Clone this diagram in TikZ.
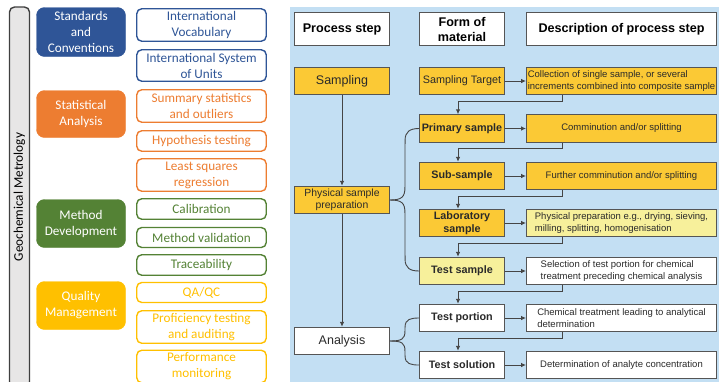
\documentclass[tikz,border=0pt]{standalone}
\usepackage{fontspec}
\setmainfont{Carlito}
\newfontfamily\arialf{Liberation Sans}
\usetikzlibrary{arrows.meta,calc}
\definecolor{cblue}{HTML}{2F5597}
\definecolor{corange}{HTML}{ED7D31}
\definecolor{cgreen}{HTML}{548235}
\definecolor{cgold}{HTML}{FFC000}
\definecolor{bgblue}{HTML}{C3DFF3}
\definecolor{boxgold}{HTML}{FBC935}
\definecolor{boxlight}{HTML}{F7F09B}
\definecolor{edgegray}{HTML}{555555}
\definecolor{txtgray}{HTML}{2A2A2A}
\definecolor{linegray}{HTML}{454545}
\definecolor{barfill}{HTML}{E7E6E6}
\definecolor{baredge}{HTML}{3F3F3F}
\begin{document}
\begin{tikzpicture}[x=1pt,y=-1pt,
  leftfont/.style={font=\fontsize{13.2}{16}\selectfont},
  catbox/.style={fill=#1, draw=#1, rounded corners=8pt, minimum width=89pt,
    text=white, align=center, leftfont, inner sep=0pt},
  itembox/.style={draw=#1, line width=1.4pt, fill=white, rounded corners=5pt,
    minimum width=129.5pt, text=#1, align=center, leftfont, inner sep=0pt},
  pbox/.style={draw=edgegray, line width=0.9pt, fill=#1, align=center,
    inner sep=0pt, text=txtgray},
  hdrbox/.style={pbox=white, text=black, minimum height=33pt,
    font=\arialf\bfseries\fontsize{12.6}{15}\selectfont},
  procbox/.style={pbox=#1, minimum width=95pt, minimum height=27.5pt,
    font=\arialf\fontsize{12.5}{15}\selectfont},
  formbox/.style={pbox=#1, minimum width=85pt, minimum height=27.5pt,
    font=\arialf\fontsize{10.8}{12.5}\selectfont},
  descbox/.style={pbox=#1, minimum width=190pt, minimum height=27.5pt,
    font=\arialf\fontsize{9.5}{11.8}\selectfont},
  conn/.style={draw=linegray, line width=0.9pt},
  arr/.style={conn, -{Latex[length=5pt,width=4.5pt]}}
]
\useasboundingbox (0,0) rectangle (719,381);
\clip (0,0) rectangle (719,381);

% ---------- left panel ----------
\node[draw=baredge, line width=1.4pt, fill=barfill, rounded corners=5pt,
  rotate=90, minimum width=380pt, minimum height=20pt, inner sep=0pt,
  leftfont, text=black] (bar) at (19.5,197) {Geochemical Metrology};

\node[catbox=cblue,   minimum height=49pt] (sc) at (81,32)    {Standards\\and\\Conventions};
\node[catbox=corange, minimum height=47pt] (sa) at (81,114)   {Statistical\\Analysis};
\node[catbox=cgreen,  minimum height=48pt] (md) at (81,223.5) {Method\\Development};
\node[catbox=cgold,   minimum height=48pt] (qm) at (81,305.5) {Quality\\Management};

\node[itembox=cblue,   minimum height=32.5pt] (iv)  at (201.5,25)    {International\\Vocabulary};
\node[itembox=cblue,   minimum height=31.5pt] (isu) at (201.5,65.5)  {International System\\of Units};
\node[itembox=corange, minimum height=32.5pt] (sso) at (201.5,106)   {Summary statistics\\and outliers};
\node[itembox=corange, minimum height=20.5pt] (ht)  at (201.5,141)   {Hypothesis testing};
\node[itembox=corange, minimum height=32.5pt] (lsr) at (201.5,175)   {Least squares\\regression};
\node[itembox=cgreen,  minimum height=20.5pt] (cal) at (201.5,209)   {Calibration};
\node[itembox=cgreen,  minimum height=20pt]   (mv)  at (201.5,237.5) {Method validation};
\node[itembox=cgreen,  minimum height=20.5pt] (tr)  at (201.5,265)   {Traceability};
\node[itembox=cgold,   minimum height=20pt]   (qa)  at (201.5,292.5) {QA/QC};
\node[itembox=cgold,   minimum height=32.5pt] (pta) at (201.5,327)   {Proficiency testing\\and auditing};
\node[itembox=cgold,   minimum height=32.5pt] (pm)  at (201.5,366.5) {Performance\\monitoring};

% ---------- right panel ----------
\fill[bgblue] (290,7) rectangle (719,390);

\node[hdrbox, minimum width=95pt]  (h1) at (342,29)   {Process step};
\node[hdrbox, minimum width=85pt]  (h2) at (462,29)   {Form of\\material};
\node[hdrbox, minimum width=190pt] (h3) at (621.5,29) {Description of process step};

\node[procbox=boxgold] (samp) at (342,81) {Sampling};
\node[procbox=boxgold, font=\arialf\fontsize{10.4}{12}\selectfont] (phys) at (342,200) {Physical sample\\preparation};
\node[procbox=white] (anal) at (342,341) {Analysis};

\node[formbox=boxgold] (st)   at (462,81)    {Sampling Target};
\node[formbox=boxgold, font=\arialf\bfseries\fontsize{10.8}{12.5}\selectfont] (prim) at (462,128.5) {Primary sample};
\node[formbox=boxgold, font=\arialf\bfseries\fontsize{10.8}{12.5}\selectfont] (sub)  at (462,176)   {Sub-sample};
\node[formbox=boxgold, font=\arialf\bfseries\fontsize{10.8}{12.5}\selectfont] (lab)  at (462,223)   {Laboratory\\sample};
\node[formbox=boxlight, font=\arialf\bfseries\fontsize{10.8}{12.5}\selectfont] (tsam) at (462,271)  {Test sample};
\node[formbox=white, font=\arialf\bfseries\fontsize{10.8}{12.5}\selectfont] (tpor) at (462,318)    {Test portion};
\node[formbox=white, font=\arialf\bfseries\fontsize{10.8}{12.5}\selectfont] (tsol) at (462,365)    {Test solution};

\node[descbox=boxgold, align=left] (d1) at (621.5,81) {Collection of single sample, or several\\increments combined into composite sample};
\node[descbox=boxgold]  (d2) at (621.5,128.5) {Comminution and/or splitting};
\node[descbox=boxgold]  (d3) at (621.5,176)   {Further comminution and/or splitting};
\node[descbox=boxlight, align=left] (d4) at (621.5,223) {Physical preparation e.g., drying, sieving,\\milling, splitting, homogenisation};
\node[descbox=white, align=left] (d5) at (621.5,271) {Selection of test portion for chemical\\treatment preceding chemical analysis};
\node[descbox=white, align=left] (d6) at (621.5,318) {Chemical treatment leading to analytical\\determination};
\node[descbox=white]    (d7) at (621.5,365)   {Determination of analyte concentration};

% vertical process arrows
\draw[arr] (samp.south) -- (phys.north);
\draw[arr] (phys.south) -- (anal.north);

% form -> description arrows
\foreach \f/\d in {st/d1,prim/d2,sub/d3,lab/d4,tsam/d5,tpor/d6,tsol/d7}
  \draw[arr] (\f.east) -- (\d.west);

% return loops
\foreach \d/\f in {d1/prim,d2/sub,d3/lab,d4/tsam,d5/tpor,d6/tsol}
  \draw[arr] ($(\d.south west)+(36,0)$) -- ++(0,6) -| ([xshift=-4pt]\f.north);

% braces from physical sample preparation
\draw[conn] (phys.east) .. controls +(12,0) and +(0,10) .. ($(phys.east)+(15,-13)$)
  -- ($(prim.west)+(-14,12)$) .. controls +(0,-9) and +(-9,0) .. (prim.west);
\draw[conn] (phys.east) .. controls +(12,0) and +(0,-10) .. ($(phys.east)+(15,13)$)
  -- ($(tsam.west)+(-14,-12)$) .. controls +(0,9) and +(-9,0) .. (tsam.west);

% braces from analysis
\draw[conn] (anal.east) .. controls +(12,0) and +(0,8) .. ($(anal.east)+(15,-10)$)
  -- ($(tpor.west)+(-14,9)$) .. controls +(0,-8) and +(-8,0) .. (tpor.west);
\draw[conn] (anal.east) .. controls +(12,0) and +(0,-8) .. ($(anal.east)+(15,10)$)
  -- ($(tsol.west)+(-14,-9)$) .. controls +(0,8) and +(-8,0) .. (tsol.west);
\end{tikzpicture}
\end{document}
